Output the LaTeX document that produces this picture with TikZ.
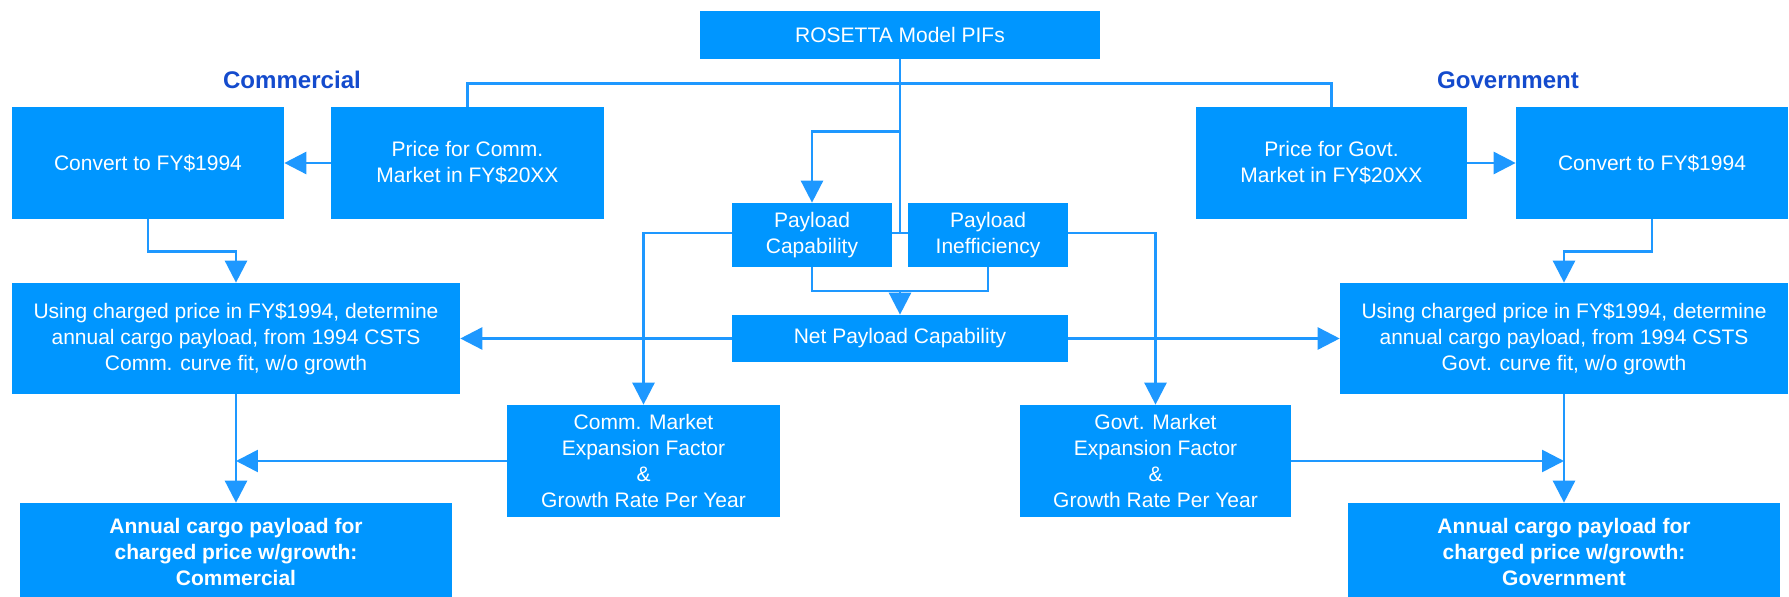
\documentclass[tikz,border=0pt]{standalone}
\usepackage{fontspec}
\setmainfont{Liberation Sans}
\usepackage{tikz}
\usetikzlibrary{arrows.meta, backgrounds}
\definecolor{rsBlue}{RGB}{0, 150, 255}
\definecolor{rsWire}{RGB}{30, 152, 255}
\definecolor{rsNavy}{RGB}{20, 75, 205}
\tikzset{
    base/.style={
        font=\fontsize{11.95}{14.8}\selectfont,
        align=center
    },
    block/.style={
        base,
        rectangle,
        fill=rsBlue,
        text=white,
        inner sep=0pt
    },
    result/.style={
        block,
        font=\fontsize{11.95}{14.8}\selectfont\bfseries
    },
    heading/.style={
        font=\fontsize{13.7}{16}\selectfont\bfseries,
        text=rsNavy
    },
    link/.style={
        line width=1.5pt,
        color=rsWire
    },
    flow/.style={
        link,
        -{Triangle[length=4.4mm, width=4.4mm]}
    }
}

\begin{document}
\begin{tikzpicture}[x=0.02cm, y=-0.02cm]
  \useasboundingbox (0,0) rectangle (1789,597);

  % Source and side headings
  \node[block, minimum width=8cm, minimum height=0.96cm] (rosetta) at (900,35) {ROSETTA Model PIFs};
  \node[heading] (comm) at (292,80) {Commercial};
  \node[heading] (govt) at (1508,80) {Government};

  % Prices and conversion to FY$1994
  \node[block, minimum width=5.46cm, minimum height=2.24cm] (priceC) at (467.5,163) {Price for Comm.\\Market in FY\$20XX};
  \node[block, minimum width=5.44cm, minimum height=2.24cm] (convC) at (148,163) {Convert to FY\$1994};
  \node[block, minimum width=5.42cm, minimum height=2.24cm] (priceG) at (1331.5,163) {Price for Govt.\\Market in FY\$20XX};
  \node[block, minimum width=5.44cm, minimum height=2.24cm] (convG) at (1652,163) {Convert to FY\$1994};

  % Payload blocks
  \node[block, minimum width=3.2cm, minimum height=1.28cm] (payCap) at (812,235) {Payload\\Capability};
  \node[block, minimum width=3.2cm, minimum height=1.28cm] (payIneff) at (988,235) {Payload\\Inefficiency};
  \node[block, minimum width=6.72cm, minimum height=0.94cm] (netPay) at (900,338.5) {Net Payload Capability};

  % Curve fits
  \node[block, minimum width=8.96cm, minimum height=2.22cm] (usingC) at (236,338.5) {Using charged price in FY\$1994, determine\\annual cargo payload, from 1994 CSTS\\Comm. curve fit, w/o growth};
  \node[block, minimum width=8.96cm, minimum height=2.22cm] (usingG) at (1564,338.5) {Using charged price in FY\$1994, determine\\annual cargo payload, from 1994 CSTS\\Govt. curve fit, w/o growth};

  % Market expansion
  \node[block, minimum width=5.46cm, minimum height=2.24cm] (mktC) at (643.5,461) {Comm. Market\\Expansion Factor\\\&\\Growth Rate Per Year};
  \node[block, minimum width=5.42cm, minimum height=2.24cm] (mktG) at (1155.5,461) {Govt. Market\\Expansion Factor\\\&\\Growth Rate Per Year};

  % Results
  \node[result, minimum width=8.64cm, minimum height=1.96cm] (annualC) at (236,552) {Annual cargo payload for\\charged price w/growth:\\Commercial};
  \node[result, minimum width=8.64cm, minimum height=1.96cm] (annualG) at (1564,552) {Annual cargo payload for\\charged price w/growth:\\Government};

  \begin{scope}[on background layer]
    \coordinate (hub) at (900,233);
    \coordinate (merge) at (900,291);

    % from the PIFs
    \draw[link] (rosetta.south) -- (hub);
    \draw[link] (rosetta.south) ++(0,24) -| (priceC.north);
    \draw[link] (rosetta.south) ++(0,24) -| (priceG.north);
    \draw[flow] (rosetta.south) ++(0,72) -| (payCap.north);
    \draw[flow] (hub) -| (mktC.north);
    \draw[flow] (hub) -| (mktG.north);

    % prices
    \draw[flow] (priceC.west) -- (convC.east);
    \draw[flow] (priceG.east) -- (convG.west);
    \draw[flow] (convC.south) -- ++(0,32) -| (usingC.north);
    \draw[flow] (convG.south) -- ++(0,32) -| (usingG.north);

    % payload
    \draw[link] (payCap.south) |- (merge) -| (payIneff.south);
    \draw[flow] (merge) -- (netPay.north);
    \draw[flow] (netPay.west) -- (usingC.east);
    \draw[flow] (netPay.east) -- (usingG.west);

    % growth
    \draw[flow] (usingC.south) -- (annualC.north);
    \draw[flow] (usingG.south) -- (annualG.north);
    \draw[flow] (mktC.west) -- (mktC.west -| usingC.south);
    \draw[flow] (mktG.east) -- (mktG.east -| usingG.south);
  \end{scope}
\end{tikzpicture}
\end{document}
